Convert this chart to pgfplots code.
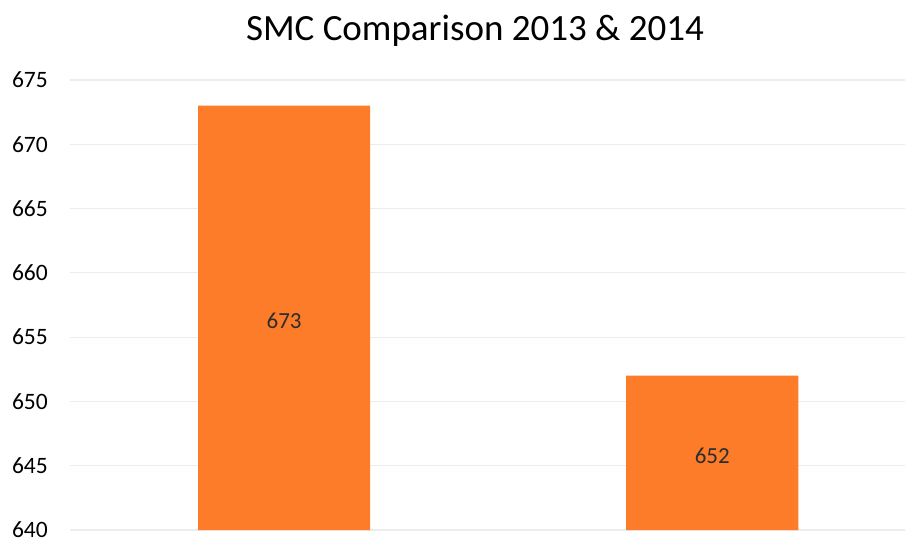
\documentclass[border=0pt]{standalone}
\usepackage{fontspec}
\setmainfont{Carlito}
\usepackage{pgfplots}
\pgfplotsset{compat=1.18}
\definecolor{barorange}{RGB}{252,124,42}
\definecolor{gridc}{RGB}{236,236,236}
\definecolor{lab}{RGB}{45,45,45}
\begin{document}
\begin{tikzpicture}[x=1pt,y=1pt]
\begin{axis}[
  at={(0,0)}, anchor=south west,
  scale only axis,
  width=835pt, height=450pt,
  xmin=-0.5, xmax=1.45,
  ymin=640, ymax=675,
  ytick={640,645,...,675},
  xtick=\empty,
  ymajorgrids,
  grid style={gridc, line width=1.2pt},
  axis line style={draw=none},
  major tick style={draw=none},
  /pgf/number format/assume math mode=true,
  yticklabel style={font=\fontsize{23.5}{26}\selectfont, text=black, anchor=east, inner sep=0pt, xshift=-22pt},
]
\addplot[ybar, bar width=0.402, bar shift=0pt, fill=barorange, draw=none]
  coordinates {(0,673) (1,652)};
\addplot[draw=none, mark=none, nodes near coords, point meta=explicit symbolic,
  every node near coord/.style={anchor=center, font=\fontsize{23}{26}\selectfont, text=lab}]
  coordinates {(0,656.3)[673] (1,645.8)[652]};
\end{axis}
\node[font=\fontsize{37}{40}\selectfont, text=black] at (405,499) {SMC Comparison 2013 \& 2014};
\pgfresetboundingbox
\path (-70,-12) rectangle (839,530);
\end{tikzpicture}
\end{document}
